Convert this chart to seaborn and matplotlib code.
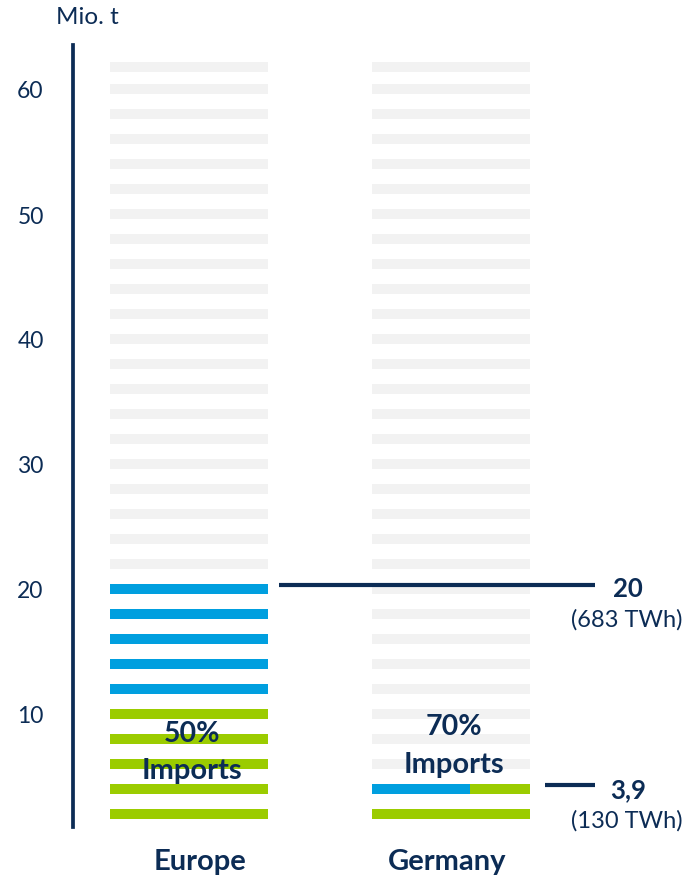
import matplotlib
matplotlib.use("Agg")
import matplotlib.pyplot as plt
import seaborn as sns
import numpy as np

# data
categories = ["Europe", "Germany"]
totals = [20, 3.9]
totals_label = ["20", "3,9"]
twh = ["(683 TWh)", "(130 TWh)"]
import_share = ["50%", "70%"]
stripe_levels = list(range(2, 61, 2)) + [61.8]   # one stripe = 2 Mio. t
europe_green_upto = 10
europe_blue_upto = 20
germany_green_upto = 2
germany_split_level = 4
germany_split_blue = 0.62
yticks = [10, 20, 30, 40, 50, 60]

navy = "#0c2c55"
blue = "#009fdf"
green = "#9bcc00"
grey = "#f2f2f2"

sns.set_theme(style="white")
plt.rcParams["font.family"] = ["Lato", "DejaVu Sans"]

fig = plt.figure(figsize=(6.85, 8.79), dpi=100)
ax = fig.add_axes([0, 39 / 879, 1, 800 / 879])

bw = 0.603
bh = 0.8

# Europe column
for lv in stripe_levels:
    if lv <= europe_green_upto:
        c = green
    elif lv <= europe_blue_upto:
        c = blue
    else:
        c = grey
    ax.barh(lv, bw, left=0 - bw / 2, height=bh, color=c, linewidth=0)

# Germany column
for lv in stripe_levels:
    if lv <= germany_green_upto:
        ax.barh(lv, bw, left=1 - bw / 2, height=bh, color=green, linewidth=0)
    elif lv == germany_split_level:
        wb = bw * germany_split_blue
        ax.barh(lv, wb, left=1 - bw / 2, height=bh, color=blue, linewidth=0)
        ax.barh(lv, bw - wb, left=1 - bw / 2 + wb, height=bh, color=green, linewidth=0)
    else:
        ax.barh(lv, bw, left=1 - bw / 2, height=bh, color=grey, linewidth=0)

# callout lines and values
line_y = [europe_blue_upto + 0.35, germany_split_level + 0.3]
line_x0 = [0.344, 1.359]
for i in range(2):
    ax.plot([line_x0[i], 1.55], [line_y[i], line_y[i]], color=navy, lw=3,
            solid_capstyle="butt")
    ax.text(1.676, line_y[i] - 0.3, totals_label[i], color=navy, fontsize=18.5,
            fontweight="bold", ha="center", va="center")
    ax.text(1.672, line_y[i] - 2.75, twh[i], color=navy, fontsize=17,
            ha="center", va="center")

# import share labels
share_x = [0.01, 1.01]
share_y = [8.5, 9.0]
for i in range(2):
    ax.text(share_x[i], share_y[i], import_share[i], color=navy, fontsize=20.5,
            fontweight="bold", ha="center", va="center")
    ax.text(share_x[i], share_y[i] - 3.0, "Imports", color=navy, fontsize=21,
            fontweight="bold", ha="center", va="center")

# category labels
cat_x = [0.042, 0.985]
for i, c in enumerate(categories):
    ax.text(cat_x[i], -1.75, c, color=navy, fontsize=21, fontweight="bold",
            ha="center", va="center", clip_on=False)

ax.set_xlim(-0.721, 1.893)
ax.set_ylim(0, 64)
ax.set_xticks([])
ax.set_yticks(yticks)
ax.set_yticklabels([str(t) for t in yticks])
ax.tick_params(axis="y", length=0, pad=21, labelsize=16.5, labelcolor=navy)
for s in ["top", "right", "bottom"]:
    ax.spines[s].set_visible(False)
ax.spines["left"].set_position(("data", -0.443))
ax.spines["left"].set_bounds(1.0, 63.5)
ax.spines["left"].set_color(navy)
ax.spines["left"].set_linewidth(2.7)
ax.set_facecolor("white")

fig.text(87 / 685, 1 - 18 / 879, "Mio. t", color=navy, fontsize=17.5,
         ha="center", va="center")

fig.savefig("out.png", dpi=100, facecolor="white")
